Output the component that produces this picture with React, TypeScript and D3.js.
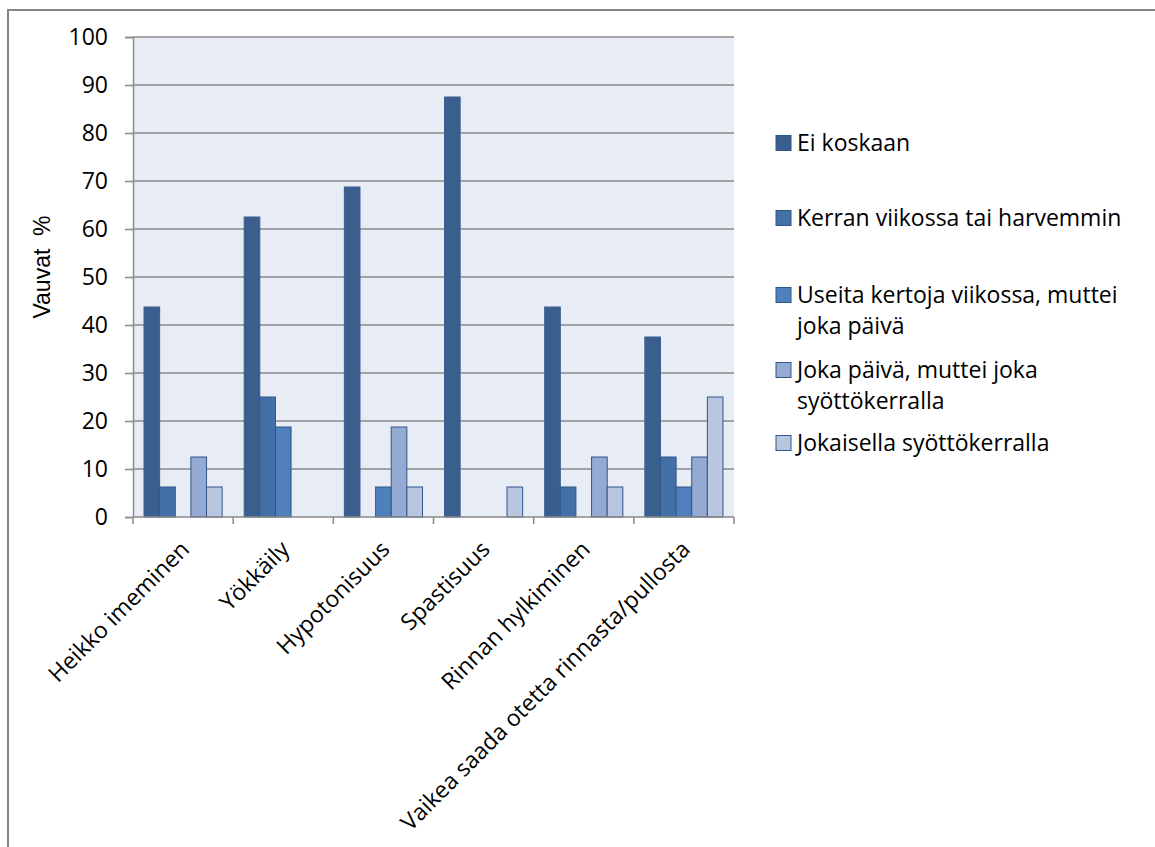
import { useRef, useEffect } from 'react'
import * as d3 from 'd3'

const categories = ['Heikko imeminen', 'Yökkäily', 'Hypotonisuus', 'Spastisuus', 'Rinnan hylkiminen', 'Vaikea saada otetta rinnasta/pullosta']
const legendLines = [['Ei koskaan'], ['Kerran viikossa tai harvemmin'], ['Useita kertoja viikossa, muttei', 'joka päivä'], ['Joka päivä, muttei joka', 'syöttökerralla'], ['Jokaisella syöttökerralla']]
const eiKoskaan = [43.75, 62.5, 68.75, 87.5, 43.75, 37.5]
const kerranViikossa = [6.25, 25, 0, 0, 6.25, 12.5]
const useitaKertoja = [0, 18.75, 6.25, 0, 0, 6.25]
const jokaPaiva = [12.5, 0, 18.75, 0, 12.5, 12.5]
const jokaisella = [6.25, 0, 6.25, 6.25, 6.25, 25]
const yTicks = [0, 10, 20, 30, 40, 50, 60, 70, 80, 90, 100]

const colors = ['#3A5F8E', '#4371A7', '#4F80BC', '#95AAD2', '#B9C6E0']
const FONT = '"Open Sans", "Noto Sans", sans-serif'

export default function App() {
  const svgRef = useRef<SVGSVGElement>(null)

  useEffect(() => {
    if (!svgRef.current) return
    const svg = d3.select(svgRef.current)
    svg.selectAll('*').remove()

    const plot = { left: 133, top: 37, right: 734, bottom: 517 }
    const series = [eiKoskaan, kerranViikossa, useitaKertoja, jokaPaiva, jokaisella]

    // outer chart border
    svg.append('rect')
      .attr('x', 8).attr('y', 10).attr('width', 1200).attr('height', 900)
      .attr('fill', '#fff').attr('stroke', '#868686').attr('stroke-width', 2)

    const x0 = d3.scaleBand<string>().domain(categories).range([plot.left, plot.right]).paddingInner(0.22).paddingOuter(0.11)
    const x1 = d3.scaleBand<number>().domain(d3.range(series.length)).range([0, x0.bandwidth()])
    const y = d3.scaleLinear().domain([0, 100]).range([plot.bottom, plot.top])

    svg.append('rect')
      .attr('x', plot.left).attr('y', plot.top)
      .attr('width', plot.right - plot.left).attr('height', plot.bottom - plot.top)
      .attr('fill', '#E8ECF4')

    // gridlines
    svg.append('g')
      .selectAll('line')
      .data(yTicks.filter((t) => t > 0))
      .join('line')
      .attr('x1', plot.left).attr('x2', plot.right)
      .attr('y1', (d) => y(d)).attr('y2', (d) => y(d))
      .attr('stroke', '#8A8A8A').attr('stroke-width', 1.5)

    // bars
    series.forEach((vals, si) => {
      svg.append('g')
        .selectAll('rect')
        .data(vals.map((v, i) => ({ cat: categories[i], v })).filter((d) => d.v > 0))
        .join('rect')
        .attr('x', (d) => (x0(d.cat) ?? 0) + (x1(si) ?? 0))
        .attr('y', (d) => y(d.v))
        .attr('width', x1.bandwidth())
        .attr('height', (d) => y(0) - y(d.v))
        .attr('fill', colors[si])
        .attr('stroke', si === 0 ? '#3A5F8E' : '#2F568A')
        .attr('stroke-width', 1)
    })

    // y axis
    const yAxis = svg.append('g')
      .attr('transform', `translate(${plot.left},0)`)
      .call(d3.axisLeft(y).tickValues(yTicks).tickSize(8).tickPadding(17))
    yAxis.selectAll('text').style('font-size', '23px').style('font-family', FONT).attr('fill', '#000')
    yAxis.selectAll('line, path').attr('stroke', '#8A8A8A').attr('stroke-width', 1.5)

    // x axis
    const xTicks = d3.range(categories.length + 1).map((i) => plot.left + (i * (plot.right - plot.left)) / categories.length)
    const xAxis = svg.append('g')
    xAxis.append('line')
      .attr('x1', plot.left).attr('x2', plot.right).attr('y1', plot.bottom).attr('y2', plot.bottom)
      .attr('stroke', '#8A8A8A').attr('stroke-width', 1.5)
    xAxis.selectAll('.tk')
      .data(xTicks)
      .join('line')
      .attr('x1', (d) => d).attr('x2', (d) => d)
      .attr('y1', plot.bottom).attr('y2', plot.bottom + 7)
      .attr('stroke', '#8A8A8A').attr('stroke-width', 1.5)
    xAxis.selectAll('text')
      .data(categories)
      .join('text')
      .attr('transform', (d) => `translate(${(x0(d) ?? 0) + x0.bandwidth() / 2 + 2},${plot.bottom + 28}) rotate(-45)`)
      .attr('text-anchor', 'end')
      .attr('dy', '0.35em')
      .style('font-size', '23px')
      .style('font-family', FONT)
      .text((d) => d)

    // y title
    svg.append('text')
      .attr('transform', `translate(42,${(plot.top + plot.bottom) / 2 - 10}) rotate(-90)`)
      .attr('text-anchor', 'middle')
      .attr('dy', '0.35em')
      .style('font-size', '23px')
      .style('font-family', '"Liberation Sans", Arial, sans-serif')
      .style('white-space', 'pre')
      .text('Vauvat  %')

    // legend
    const legendY = [143, 218, 295, 370, 443]
    const legend = svg.append('g')
    legendLines.forEach((lines, i) => {
      legend.append('rect')
        .attr('x', 776).attr('y', legendY[i] - 7.5).attr('width', 15).attr('height', 15)
        .attr('fill', colors[i]).attr('stroke', '#2F568A').attr('stroke-width', 1)
      lines.forEach((ln, j) => {
        legend.append('text')
          .attr('x', 797).attr('y', legendY[i] + j * 31)
          .attr('dy', '0.35em')
          .style('font-size', '23px')
          .style('font-family', FONT)
          .text(ln)
      })
    })
  }, [])

  return <svg ref={svgRef} width={1155} height={847} style={{ position: 'absolute', left: 0, top: 0 }} />
}
